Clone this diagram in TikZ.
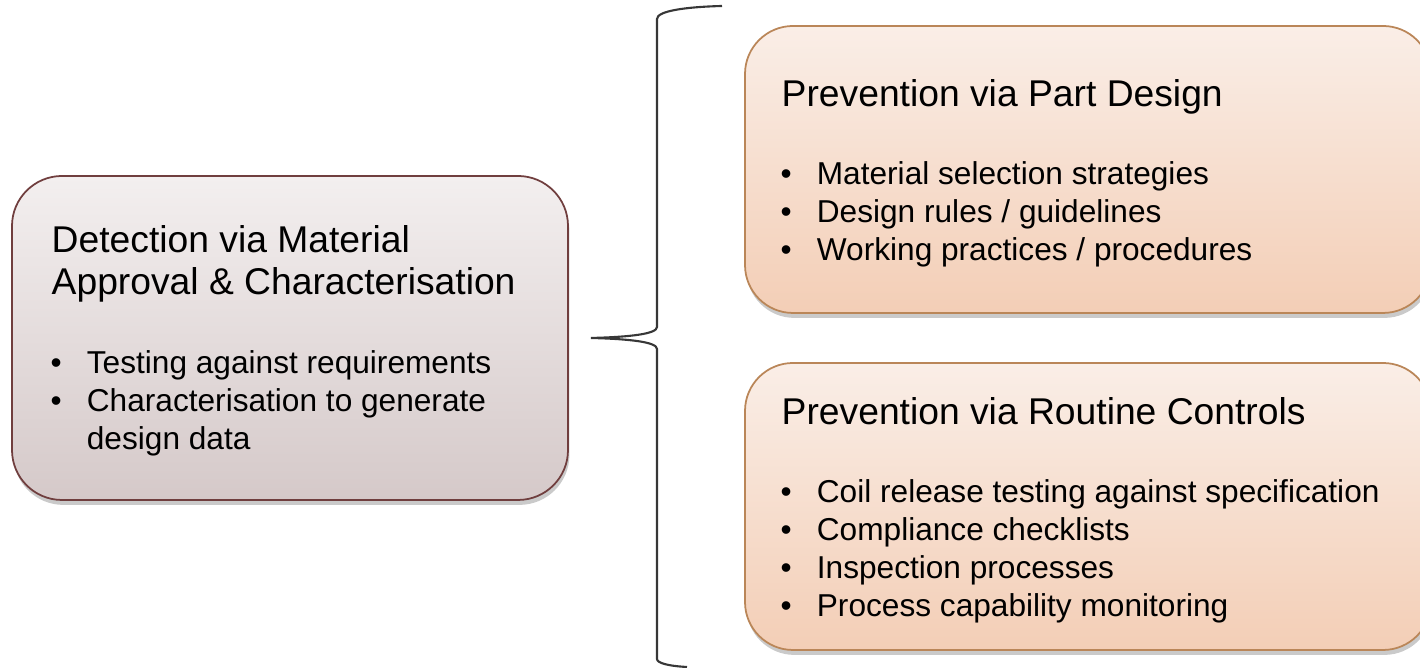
\documentclass[tikz,border=0pt]{standalone}
\usepackage{fontspec}
\setmainfont{Liberation Sans}
\usetikzlibrary{shadows}
%
\newcommand*{\bitem}[1]{\makebox[10.3pt][l]{\textbullet}#1}
\newcommand*{\bcont}[1]{\hspace*{10.3pt}#1}
%
\begin{document}
\begin{tikzpicture}[
  box/.style={draw, line width=0.5pt, inner sep=0pt,
    drop shadow={shadow xshift=0.4pt, shadow yshift=-1.4pt,
      opacity=0.35, fill=black!60}},
  boxtitle/.style={anchor=base west, inner sep=0pt, align=left,
    font=\fontsize{10.6}{11.95}\selectfont},
  boxitems/.style={anchor=base west, inner sep=0pt, align=left,
    font=\fontsize{9}{10.9}\selectfont},
  brace/.style={draw=col_brace, line width=0.6pt}
]
%
\definecolor{col_detect_top}{RGB}{243,239,239}
\definecolor{col_detect_bot}{RGB}{213,201,201}
\definecolor{col_detect_line}{RGB}{112,62,62}
\definecolor{col_prev_top}{RGB}{250,238,231}
\definecolor{col_prev_bot}{RGB}{243,206,182}
\definecolor{col_prev_line}{RGB}{186,134,88}
\definecolor{col_brace}{RGB}{55,55,55}
%
\useasboundingbox (0,0) rectangle (14.2,6.68);
%
% boxes
\node[box, rounded corners=0.5cm, minimum width=5.56cm, minimum height=3.24cm,
  draw=col_detect_line, top color=col_detect_top, bottom color=col_detect_bot]
  (detect) at (2.90,3.30) {};
\node[box, rounded corners=0.48cm, minimum width=6.86cm, minimum height=2.87cm,
  draw=col_prev_line, top color=col_prev_top, bottom color=col_prev_bot]
  (design) at (10.88,4.985) {};
\node[box, rounded corners=0.48cm, minimum width=6.86cm, minimum height=2.87cm,
  draw=col_prev_line, top color=col_prev_top, bottom color=col_prev_bot]
  (controls) at (10.88,1.615) {};
%
% box texts (placed on the baseline of their last line)
\node[boxtitle] (detect_title) at (0.51,3.73)
  {Detection via Material\\Approval \& Characterisation};
\node[boxitems] (detect_items) at (0.50,2.18)
  {\bitem{Testing against requirements}\\
   \bitem{Characterisation to generate}\\
   \bcont{design data}};
%
\node[boxtitle] (design_title) at (7.81,5.61) {Prevention via Part Design};
\node[boxitems] (design_items) at (7.80,4.07)
  {\bitem{Material selection strategies}\\
   \bitem{Design rules / guidelines}\\
   \bitem{Working practices / procedures}};
%
\node[boxtitle] (controls_title) at (7.81,2.43) {Prevention via Routine Controls};
\node[boxitems] (controls_items) at (7.80,0.51)
  {\bitem{Coil release testing against specification}\\
   \bitem{Compliance checklists}\\
   \bitem{Inspection processes}\\
   \bitem{Process capability monitoring}};
%
% brace
\coordinate (brace_tip) at ([xshift=0.22cm]detect.east);
\coordinate (brace_top) at (7.22,6.62);
\coordinate (brace_bot) at (6.87,0.01);
\draw[brace] (brace_top) .. controls (6.85,6.61) and (6.57,6.57) .. (6.57,6.49)
  -- (6.57,3.41) .. controls (6.57,3.34) and (6.30,3.31) .. (brace_tip)
  .. controls (6.30,3.29) and (6.57,3.26) .. (6.57,3.19)
  -- (6.57,0.09) .. controls (6.57,0.05) and (6.68,0.02) .. (brace_bot);
%
\end{tikzpicture}
\end{document}
